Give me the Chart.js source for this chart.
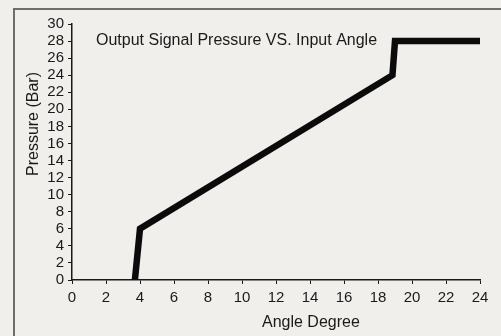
<!DOCTYPE html>
<html>
<head>
<meta charset="utf-8">
<script src="https://cdn.jsdelivr.net/npm/chart.js@4/dist/chart.umd.min.js"></script>
<style>
  html, body { margin: 0; padding: 0; background: #f1efeb; }
  #wrap { position: relative; width: 501px; height: 336px; overflow: hidden; }
  #frame {
    position: absolute; left: 13px; top: 8px; width: 600px; height: 400px;
    border-top: 2px solid #6e6e6e; border-left: 2px solid #6e6e6e;
  }
  canvas { position: absolute; left: 0; top: 0; }
</style>
</head>
<body>
<div id="wrap">
  <div id="frame"></div>
  <canvas id="chart" width="501" height="336"></canvas>
</div>
<script>
// Output signal pressure against input angle
const angleDeg    = [3.7, 4.0, 18.85, 19.0, 24];
const pressureBar = [0,   6,   24,    28,   28];

// Axis ticks
const xTickValues = [0, 2, 4, 6, 8, 10, 12, 14, 16, 18, 20, 22, 24];
const yTickValues = [0, 2, 4, 6, 8, 10, 12, 14, 16, 18, 20, 22, 24, 26, 28, 30];

// Texts
const chartTitle = 'Output Signal Pressure VS. Input Angle';
const xTitle = 'Angle Degree';
const yTitle = 'Pressure (Bar)';

const FONT = '"Liberation Sans", Arial, Helvetica, sans-serif';
const INK = '#1a1a1a';

const points = angleDeg.map((x, i) => ({ x, y: pressureBar[i] }));

// Fixed scale boxes so the plot area sits where intended
function fixBox(size, horizontal) {
  return function (scale) {
    if (horizontal) scale.height = size; else scale.width = size;
    scale.paddingTop = 0; scale.paddingBottom = 0;
    scale.paddingLeft = 0; scale.paddingRight = 0;
  };
}

const textPlugin = {
  id: 'texts',
  afterDraw(chart) {
    const ctx = chart.ctx;
    const a = chart.chartArea;
    ctx.save();
    ctx.fillStyle = INK;
    ctx.font = '16px ' + FONT;
    ctx.textBaseline = 'alphabetic';
    ctx.textAlign = 'left';
    ctx.fillText(chartTitle, a.left + 24, a.top + 21);
    ctx.fillText(xTitle, a.left + 190, a.bottom + 47);
    ctx.translate(a.left - 34, a.top + 100);
    ctx.rotate(-Math.PI / 2);
    ctx.textAlign = 'center';
    ctx.fillText(yTitle, 0, 0);
    ctx.restore();
  }
};

new Chart(document.getElementById('chart'), {
  type: 'line',
  data: {
    datasets: [{
      data: points,
      borderColor: '#0b0b0b',
      borderWidth: 6.5,
      borderCapStyle: 'round',
      borderJoinStyle: 'miter',
      pointRadius: 0,
      fill: false,
      tension: 0
    }]
  },
  options: {
    responsive: false,
    animation: false,
    layout: { padding: { left: 0, top: 24, right: 21, bottom: 0 } },
    plugins: { legend: { display: false }, tooltip: { enabled: false }, title: { display: false } },
    scales: {
      x: {
        type: 'linear',
        min: 0, max: 24,
        afterBuildTicks: s => { s.ticks = xTickValues.map(v => ({ value: v })); },
        afterFit: fixBox(56, true),
        grid: { display: true, drawOnChartArea: false, drawTicks: true, tickLength: 4, color: INK, lineWidth: 1 },
        border: { display: true, color: INK, width: 1.5 },
        ticks: { color: INK, font: { family: FONT, size: 15 }, padding: 5, maxRotation: 0, autoSkip: false }
      },
      y: {
        type: 'linear',
        min: 0, max: 30,
        afterBuildTicks: s => { s.ticks = yTickValues.map(v => ({ value: v })); },
        afterFit: fixBox(72, false),
        grid: { display: true, drawOnChartArea: false, drawTicks: true, tickLength: 4, color: INK, lineWidth: 1 },
        border: { display: true, color: INK, width: 1.5 },
        ticks: { color: INK, font: { family: FONT, size: 15 }, padding: 4, autoSkip: false }
      }
    }
  },
  plugins: [textPlugin]
});
</script>
</body>
</html>
